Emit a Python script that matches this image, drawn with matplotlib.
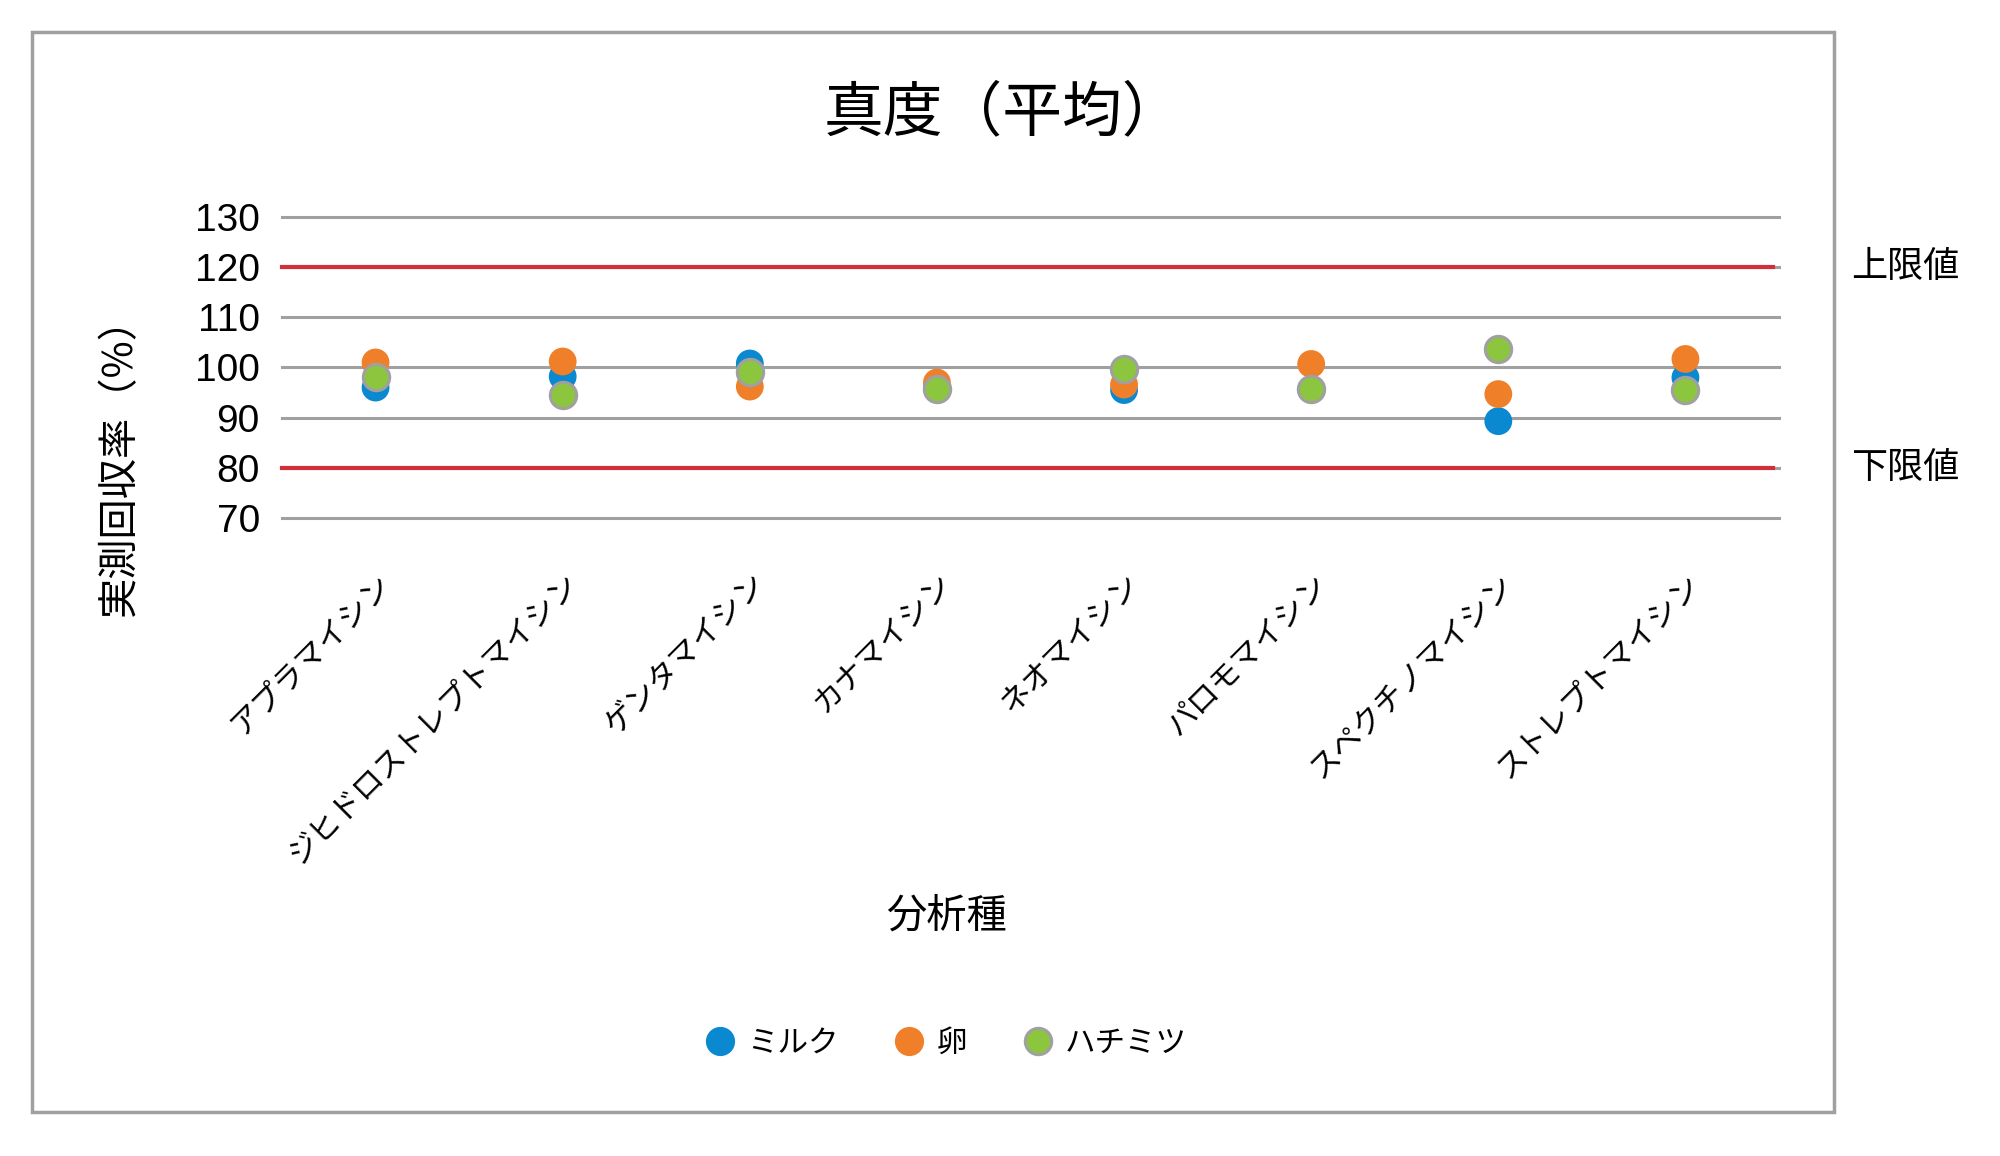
import matplotlib
matplotlib.use("Agg")
import matplotlib.pyplot as plt
from matplotlib.patches import Rectangle
from matplotlib.lines import Line2D

plt.rcParams['font.family'] = ['Liberation Sans', 'Noto Sans CJK JP', 'DejaVu Sans']

# data
analytes = ['アプラマイシン', 'ジヒドロストレプトマイシン', 'ゲンタマイシン', 'カナマイシン',
            'ネオマイシン', 'パロモマイシン', 'スペクチノマイシン', 'ストレプトマイシン']
milk = [96.0, 98.2, 100.8, 96.0, 95.5, 95.6, 89.3, 98.0]
egg = [101.0, 101.2, 96.2, 97.0, 96.6, 100.7, 94.7, 101.7]
honey = [98.2, 94.5, 99.2, 95.8, 99.6, 95.8, 103.7, 95.5]
upper_limit = 120
lower_limit = 80
yticks = [70, 80, 90, 100, 110, 120, 130]

c_blue = '#0A88D0'
c_orange = '#F07F2A'
c_green = '#8CC63F'
c_gray = '#A0A0A0'
c_red = '#D0303A'

fig = plt.figure(figsize=(20, 11.56), dpi=100)
ax = fig.add_axes([0.141, 0.5519, 0.7485, 0.2604])

x = list(range(len(analytes)))
ax.set_xlim(-0.5, len(analytes) - 0.5)
ax.set_ylim(70, 130)
ax.set_yticks(yticks)
ax.grid(axis='y', color=c_gray, linewidth=2.2)
for gl in ax.get_ygridlines():
    gl.set_clip_on(False)
ax.set_axisbelow(True)

ax.plot([-0.5, 7.47], [upper_limit, upper_limit], color=c_red, lw=3, zorder=2,
        clip_on=False)
ax.plot([-0.5, 7.47], [lower_limit, lower_limit], color=c_red, lw=3, zorder=2,
        clip_on=False)

ax.scatter(x, milk, s=400, color=c_blue, edgecolors='none', zorder=3, clip_on=False)
ax.scatter(x, egg, s=400, color=c_orange, edgecolors='none', zorder=4, clip_on=False)
ax.scatter(x, honey, s=360, color=c_green, edgecolors=c_gray, linewidths=2.2,
           zorder=5, clip_on=False)

for s in ax.spines.values():
    s.set_visible(False)
ax.tick_params(axis='both', length=0)
ax.tick_params(axis='y', labelsize=28, pad=16)
ax.set_xticks(x)
ax.set_xticklabels(analytes, rotation=45, ha='right', va='top',
                   rotation_mode='anchor', fontsize=22,
                   family=['Noto Sans CJK JP', 'DejaVu Sans'])
ax.tick_params(axis='x', pad=36)

ax.text(1.048, upper_limit, '上限値', transform=ax.get_yaxis_transform(),
        ha='left', va='center', fontsize=26, family=['Noto Sans CJK JP'])
ax.text(1.048, lower_limit, '下限値', transform=ax.get_yaxis_transform(),
        ha='left', va='center', fontsize=26, family=['Noto Sans CJK JP'])

fig.text(1003 / 2000, 1 - 114 / 1156, '真度（平均）', ha='center', va='center',
         fontsize=43, family=['Noto Sans CJK JP'])
fig.text(120 / 2000, 1 - 456 / 1156, '実測回収率（%）', ha='center', va='center',
         rotation=90, fontsize=29, family=['Noto Sans CJK JP', 'Liberation Sans'])
fig.text(946 / 2000, 1 - 916 / 1156, '分析種', ha='center', va='center',
         fontsize=29, family=['Noto Sans CJK JP'])

handles = [
    Line2D([], [], ls='none', marker='o', markersize=20, markerfacecolor=c_blue,
           markeredgecolor=c_blue),
    Line2D([], [], ls='none', marker='o', markersize=20, markerfacecolor=c_orange,
           markeredgecolor=c_orange),
    Line2D([], [], ls='none', marker='o', markersize=19, markerfacecolor=c_green,
           markeredgecolor=c_gray, markeredgewidth=2.2),
]
fig.legend(handles, ['ミルク', '卵', 'ハチミツ'], loc='center',
           bbox_to_anchor=(946 / 2000, 1 - 1043 / 1156), ncol=3, frameon=False,
           prop={'family': 'Noto Sans CJK JP', 'size': 22},
           handlelength=1.0, handletextpad=0.4, columnspacing=1.8)

fig.patches.append(Rectangle((32 / 2000, 44 / 1156), 1802 / 2000, 1080 / 1156,
                             transform=fig.transFigure, fill=False,
                             edgecolor=c_gray, linewidth=2.5))

fig.savefig('out.png', dpi=100, facecolor='white')
